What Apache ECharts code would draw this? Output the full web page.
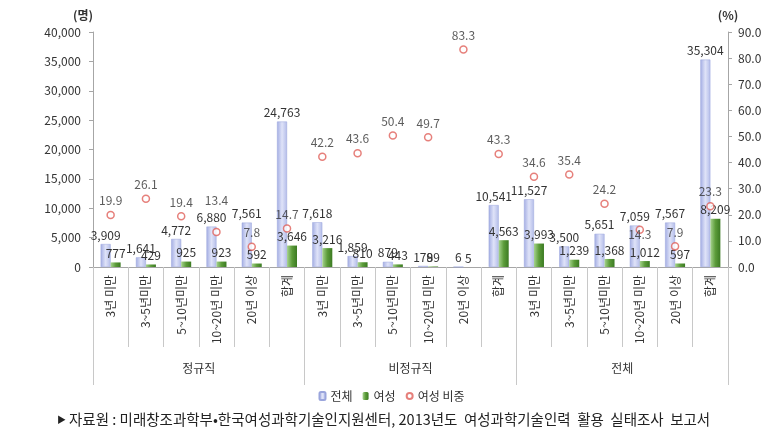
<!DOCTYPE html>
<html>
<head>
<meta charset="utf-8">
<script src="https://cdn.jsdelivr.net/npm/echarts@6/dist/echarts.min.js"></script>
<style>
html,body{margin:0;padding:0;background:#fff;}
#chart{width:783px;height:446px;}
</style>
</head>
<body>
<div id="chart"></div>
<script>
const categories = ['3년 미만','3~5년미만','5~10년미만','10~20년 미만','20년 이상','합계',
                    '3년 미만','3~5년미만','5~10년미만','10~20년 미만','20년 이상','합계',
                    '3년 미만','3~5년미만','5~10년미만','10~20년 미만','20년 이상','합계'];
const groups = ['정규직','비정규직','전체'];
const totalValues = [3909,1641,4772,6880,7561,24763,7618,1859,879,179,6,10541,11527,3500,5651,7059,7567,35304];
const femaleValues = [777,429,925,923,592,3646,3216,810,443,89,5,4563,3993,1239,1368,1012,597,8209];
const femaleShare = [19.9,26.1,19.4,13.4,7.8,14.7,42.2,43.6,50.4,49.7,83.3,43.3,34.6,35.4,24.2,14.3,7.9,23.3];
const leftTicks = [0,5000,10000,15000,20000,25000,30000,35000,40000];
const rightTicks = [0,10,20,30,40,50,60,70,80,90];
const seriesNames = ['전체','여성','여성 비중'];
const sourceText = '자료원 : 미래창조과학부•한국여성과학기술인지원센터, 2013년도  여성과학기술인력  활용  실태조사  보고서';

const FONT = '"Noto Sans CJK KR", "Noto Sans", sans-serif';
const fmt = v => String(v).replace(/\B(?=(\d{3})+(?!\d))/g, ',');

// label nudges (style only) for crowded percent labels, keyed by category index
const shareLabelNudge = {3: {offset: [0, -17]}, 15: {position: 'inside', offset: [0, 5]}};

const chart = echarts.init(document.getElementById('chart'));
chart.setOption({
  animation: false,
  textStyle: {fontFamily: FONT},
  grid: {left: 93, right: 55, top: 32, bottom: 179, containLabel: false},
  legend: {
    data: seriesNames, top: 385, left: 'center', itemGap: 10,
    itemWidth: 6, itemHeight: 8,
    textStyle: {fontFamily: FONT, fontSize: 12, color: '#333'}
  },
  xAxis: [{
    type: 'category', data: categories, boundaryGap: true,
    axisLine: {lineStyle: {color: '#a6a6a6'}},
    axisTick: {show: true, length: 80, lineStyle: {color: '#c8c8c8'}},
    axisLabel: {rotate: 90, margin: 8, fontSize: 12, color: '#333', fontFamily: FONT, interval: 0}
  }, {
    type: 'category', data: groups, position: 'bottom', boundaryGap: true,
    axisLine: {show: false},
    axisTick: {show: true, length: 118, lineStyle: {color: '#c8c8c8'}},
    axisLabel: {margin: 95, fontSize: 12, color: '#333', fontFamily: FONT, interval: 0}
  }],
  yAxis: [{
    type: 'value', min: 0, max: 40000, interval: 5000,
    name: '(명)', nameLocation: 'end', nameGap: 11,
    nameTextStyle: {align: 'right', fontWeight: 'bold', fontSize: 12, color: '#333', fontFamily: FONT},
    axisLine: {show: true, lineStyle: {color: '#a6a6a6'}},
    axisTick: {show: true, length: 4, lineStyle: {color: '#a6a6a6'}},
    splitLine: {show: false},
    axisLabel: {fontSize: 12, color: '#333', margin: 12, formatter: v => leftTicks.includes(v) ? fmt(v) : ''}
  }, {
    type: 'value', min: 0, max: 90, interval: 10, position: 'right',
    name: '(%)', nameLocation: 'end', nameGap: 11,
    nameTextStyle: {align: 'center', fontWeight: 'bold', fontSize: 12, color: '#333', fontFamily: FONT},
    axisLine: {show: true, lineStyle: {color: '#a6a6a6'}},
    axisTick: {show: true, length: 4, lineStyle: {color: '#a6a6a6'}},
    splitLine: {show: false},
    axisLabel: {fontSize: 12, color: '#333', margin: 10, formatter: v => rightTicks.includes(v) ? v.toFixed(1) : ''}
  }],
  series: [{
    name: seriesNames[0], type: 'bar', data: totalValues, xAxisIndex: 0, yAxisIndex: 0,
    barWidth: 10, barGap: '0%',
    itemStyle: {
      color: new echarts.graphic.LinearGradient(0,0,1,0,[
        {offset:0,color:'#a3ade3'},{offset:0.5,color:'#dfe3f8'},{offset:1,color:'#b3bce9'}]),
      borderColor: '#9aa5dc', borderWidth: 0.5
    },
    label: {show: true, position: 'top', distance: 3, fontSize: 12, color: '#333', formatter: p => fmt(p.value)}
  }, {
    name: seriesNames[1], type: 'bar', data: femaleValues, xAxisIndex: 0, yAxisIndex: 0,
    barWidth: 10,
    itemStyle: {
      color: new echarts.graphic.LinearGradient(0,0,1,0,[
        {offset:0,color:'#a6d38e'},{offset:0.5,color:'#5c9c3a'},{offset:1,color:'#3b7a22'}])
    },
    label: {show: true, position: 'top', distance: 3, fontSize: 12, color: '#333', formatter: p => fmt(p.value)}
  }, {
    name: seriesNames[2], type: 'scatter', xAxisIndex: 0, yAxisIndex: 1,
    data: femaleShare.map((v, i) => shareLabelNudge[i] ? {value: v, label: shareLabelNudge[i]} : v),
    symbol: 'circle', symbolSize: 7,
    itemStyle: {color: '#fff', borderColor: '#e0605a', borderWidth: 1.5},
    label: {show: true, position: 'top', distance: 4, fontSize: 12, color: '#333', formatter: p => p.value.toFixed(1)}
  }],
  graphic: [{
    type: 'text', left: 57, top: 415,
    style: {text: '▶', font: '9px ' + FONT, fill: '#222'}
  }, {
    type: 'text', left: 69, top: 412,
    style: {text: sourceText, font: '14.5px ' + FONT, fill: '#222'}
  }]
});
</script>
</body>
</html>
